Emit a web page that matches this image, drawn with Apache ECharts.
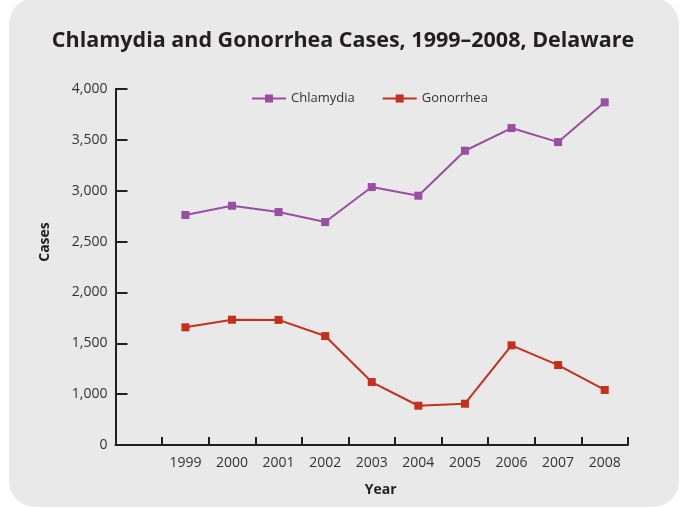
<!DOCTYPE html>
<html>
<head>
<meta charset="utf-8">
<script src="https://cdn.jsdelivr.net/npm/echarts@6/dist/echarts.min.js"></script>
<style>
  html, body { margin: 0; padding: 0; background: #fff; }
  #panel { position: absolute; left: 9px; top: -2px; width: 670px; height: 509px; background: #e8e9e8; border-radius: 26px; }
  #chartmain { position: absolute; left: 0; top: 0; width: 686px; height: 508px; }
</style>
</head>
<body>
<div id="panel"></div>
<div id="chartmain"></div>
<script>
// data
var years = ['1999', '2000', '2001', '2002', '2003', '2004', '2005', '2006', '2007', '2008'];
var chlamydia = [2761, 2852, 2790, 2692, 3036, 2951, 3393, 3616, 3478, 3869];
var gonorrhea = [1657, 1732, 1730, 1571, 1119, 886, 906, 1480, 1286, 1041];
var yTicks = [500, 1000, 1500, 2000, 2500, 3000, 3500, 4000];

var myChart = echarts.init(document.getElementById('chartmain'));

var font = '"Open Sans", sans-serif';
var axisColor = '#231f20';

// first category is left empty, like the original
var cats = [''].concat(years);

var option = {
    backgroundColor: 'transparent',
    title: {
        text: 'Chlamydia and Gonorrhea Cases, 1999–2008, Delaware',
        left: 'center',
        top: 25,
        textStyle: { fontFamily: font, fontWeight: 'bold', fontSize: 21.5, color: '#231f20' }
    },
    legend: {
        left: 246,
        top: 87,
        itemWidth: 34,
        itemHeight: 10,
        itemGap: 27,
        textStyle: { fontFamily: font, fontSize: 13, color: '#333' },
        data: ['Chlamydia', 'Gonorrhea']
    },
    grid: { left: 115.5, right: 58, top: 89, bottom: 63 },
    xAxis: {
        type: 'category',
        data: cats,
        boundaryGap: true,
        name: 'Year',
        nameLocation: 'middle',
        nameGap: 38,
        nameTextStyle: { fontFamily: font, fontWeight: 'bold', fontSize: 14, color: '#231f20', padding: [0, 0, 0, 18] },
        axisLine: { lineStyle: { color: axisColor, width: 2 } },
        axisTick: { show: true, interval: 0, inside: true, length: 8, lineStyle: { color: axisColor, width: 2 } },
        axisLabel: { fontFamily: font, fontSize: 14, color: '#333', margin: 11, interval: 0 }
    },
    yAxis: {
        type: 'value',
        min: 500,
        max: 4000,
        interval: 500,
        name: 'Cases',
        nameLocation: 'middle',
        nameGap: 63,
        nameTextStyle: { fontFamily: font, fontWeight: 'bold', fontSize: 14, color: '#231f20', padding: [0, 0, 0, 50] },
        splitLine: { show: false },
        axisLine: { show: true, lineStyle: { color: axisColor, width: 2 } },
        axisTick: { show: true, inside: true, length: 12, lineStyle: { color: axisColor, width: 2 } },
        axisLabel: {
            fontFamily: font, fontSize: 14, color: '#333', margin: 8,
            formatter: function (v) {
                if (yTicks.indexOf(v) < 0) return '';
                return v === 500 ? '0' : v.toLocaleString('en-US');
            }
        }
    },
    series: [
        {
            name: 'Chlamydia',
            type: 'line',
            data: [null].concat(chlamydia),
            symbol: 'rect',
            symbolSize: 8,
            itemStyle: { color: '#9b4da3' },
            lineStyle: { color: '#9b4da3', width: 2 }
        },
        {
            name: 'Gonorrhea',
            type: 'line',
            data: [null].concat(gonorrhea),
            symbol: 'rect',
            symbolSize: 8,
            itemStyle: { color: '#c5301c' },
            lineStyle: { color: '#c5301c', width: 2 }
        }
    ]
};

myChart.setOption(option);
</script>
</body>
</html>
